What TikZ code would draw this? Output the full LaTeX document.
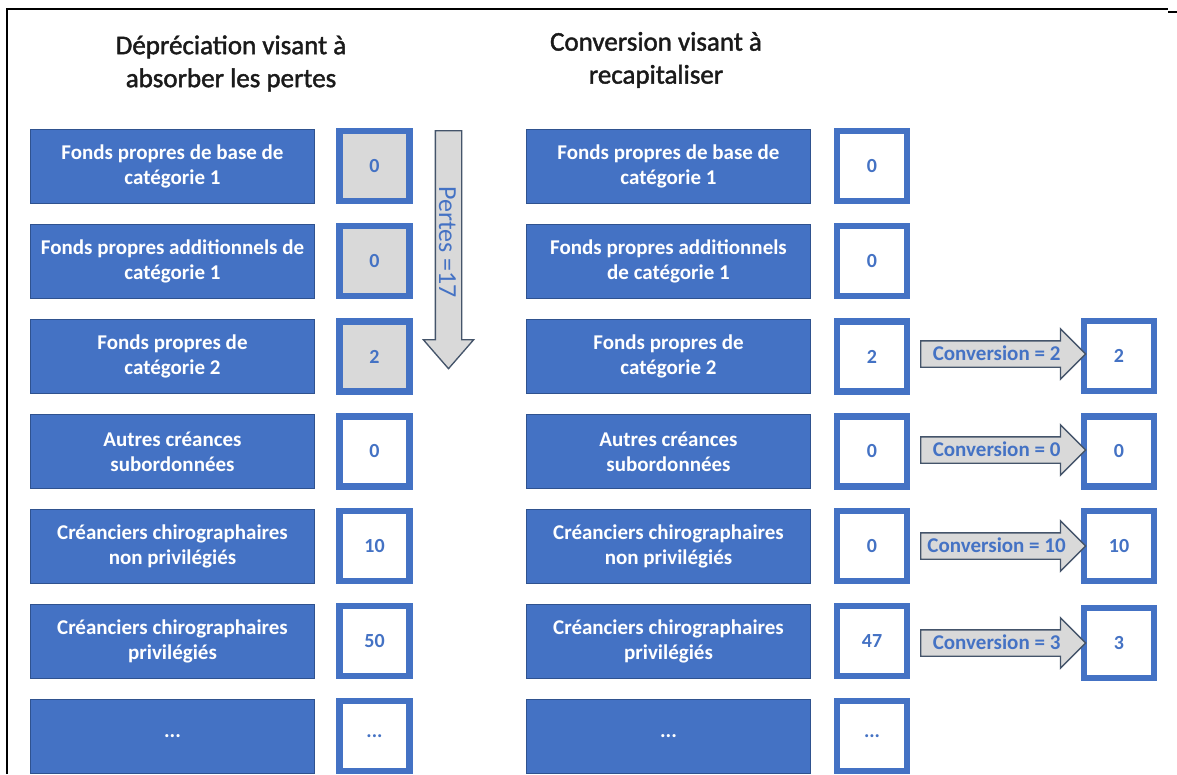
\documentclass[tikz,border=0pt]{standalone}
\usepackage{fontspec}
\setmainfont{Carlito}
\newfontfamily\titlefont[RawFeature={embolden=1.6}]{Carlito}
\usepackage{tikz}
\usepackage{xcolor}
\usetikzlibrary{shapes.arrows}
\definecolor{FontColor}{HTML}{1A1A1A}
\definecolor{BlueNC}{HTML}{4472C4}
\definecolor{DarkBlueNC}{HTML}{2F528F}
\definecolor{GreyNC}{HTML}{D9D9D9}
\definecolor{ArrowNC}{HTML}{44546A}
\newcommand\nodefpb{Fonds propres de base de\\catégorie 1}
\newcommand\nodefpal{Fonds propres additionnels de\\catégorie 1}
\newcommand\nodefpar{Fonds propres additionnels\\de catégorie 1}
\newcommand\nodefpd{Fonds propres de\\catégorie 2}
\newcommand\nodeacs{Autres créances\\subordonnées}
\newcommand\nodeccnp{Créanciers chirographaires\\non privilégiés}
\newcommand\nodeccp{Créanciers chirographaires\\privilégiés}
\tikzstyle{mynodestyle} = [rectangle, align=center, inner sep=0pt]
\tikzstyle{cn} = [mynodestyle, draw=DarkBlueNC, fill=BlueNC, line width=0.75pt, minimum width=213pt, minimum height=55.5pt, text=white, font=\fontsize{15.75}{18.75}\selectfont\bfseries]
\tikzstyle{vn} = [mynodestyle, draw=BlueNC, fill=white, line width=4.9pt, minimum size=52.5pt, text=BlueNC, font=\fontsize{15}{18}\selectfont\bfseries]
\tikzstyle{gn} = [vn, fill=GreyNC]
\tikzstyle{an} = [single arrow, draw=ArrowNC, fill=GreyNC, line width=1pt, single arrow head extend=9pt, single arrow head indent=0pt, inner xsep=4pt, inner ysep=0pt, text=BlueNC]
\tikzstyle{tn} = [align=center, text=FontColor, font=\titlefont\fontsize{20.25}{24.75}\selectfont]
\tikzset{every picture/.style={x=0.75pt, y=-0.75pt}}

\begin{document}
\begin{tikzpicture}
\useasboundingbox (0,0) rectangle (1177,774);
\draw[line width=1.5pt] (7,774) -- (7,9) -- (1168,9);
\draw[line width=1.5pt] (1168,12) -- (1177,12);
\node[tn] (t1) at (231,63.5) {Dépréciation visant à\\absorber les pertes};
\node[tn] (t2) at (656,60) {Conversion visant à\\recapitaliser};
% left column
\node[cn] (l1) at (172.5,166) {\nodefpb};
\node[cn] (l2) at (172.5,261) {\nodefpal};
\node[cn] (l3) at (172.5,356.5) {\nodefpd};
\node[cn] (l4) at (172.5,451.5) {\nodeacs};
\node[cn] (l5) at (172.5,546) {\nodeccnp};
\node[cn] (l6) at (172.5,641) {\nodeccp};
\node[cn] (l7) at (172.5,736) {...};
\node[gn] (lv1) at (374.5,166) {0};
\node[gn] (lv2) at (374.5,261) {0};
\node[gn] (lv3) at (374.5,356.5) {2};
\node[vn] (lv4) at (374.5,451.5) {0};
\node[vn] (lv5) at (374.5,546) {10};
\node[vn] (lv6) at (374.5,641) {50};
\node[vn] (lv7) at (374.5,736) {...};
\node[an, rotate=-90, anchor=tail, minimum height=178.5pt, single arrow tip angle=82, text height=16.5pt, text depth=2.25pt, font=\fontsize{19.5}{20}\selectfont] (pertes) at (448.5,130) {Pertes =17};
% right column
\node[cn] (r1) at (668.5,166) {\nodefpb};
\node[cn] (r2) at (668.5,261) {\nodefpar};
\node[cn] (r3) at (668.5,356.5) {\nodefpd};
\node[cn] (r4) at (668.5,451.5) {\nodeacs};
\node[cn] (r5) at (668.5,546) {\nodeccnp};
\node[cn] (r6) at (668.5,641) {\nodeccp};
\node[cn] (r7) at (668.5,736) {...};
\node[vn] (rv1) at (872,166) {0};
\node[vn] (rv2) at (872,261) {0};
\node[vn] (rv3) at (872,356.5) {2};
\node[vn] (rv4) at (872,451.5) {0};
\node[vn] (rv5) at (872,546) {0};
\node[vn] (rv6) at (872,641) {47};
\node[vn] (rv7) at (872,736) {...};
\node[vn] (cv3) at (1119,356) {2};
\node[vn] (cv4) at (1119,451.5) {0};
\node[vn] (cv5) at (1119,546) {10};
\node[vn] (cv6) at (1119,643) {3};
% conversions
\node[an, anchor=tail, minimum height=123.75pt, text height=14.45pt, text depth=4.3pt, font=\fontsize{15.75}{18}\selectfont\bfseries] (c3) at (920,354) {Conversion = 2};
\node[an, anchor=tail, minimum height=123.75pt, text height=14.45pt, text depth=4.3pt, font=\fontsize{15.75}{18}\selectfont\bfseries] (c4) at (920,450) {Conversion = 0};
\node[an, anchor=tail, minimum height=123.75pt, text height=14.45pt, text depth=4.3pt, font=\fontsize{15.75}{18}\selectfont\bfseries] (c5) at (920,546) {Conversion = 10};
\node[an, anchor=tail, minimum height=123.75pt, text height=14.45pt, text depth=4.3pt, font=\fontsize{15.75}{18}\selectfont\bfseries] (c6) at (920,643) {Conversion = 3};
\end{tikzpicture}
\end{document}
